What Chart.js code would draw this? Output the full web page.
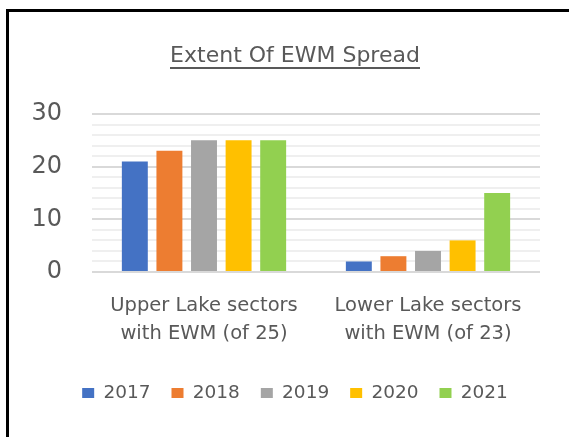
<!DOCTYPE html>
<html>
<head>
<meta charset="utf-8">
<title>Extent Of EWM Spread</title>
<script src="https://cdn.jsdelivr.net/npm/chart.js"></script>
<style>
  html, body { margin: 0; padding: 0; width: 569px; height: 437px; overflow: hidden; background: #fff; }
  #frame { position: absolute; left: 6px; top: 9px; width: 620px; height: 480px;
           border-top: 3px solid #000; border-left: 3px solid #000; }
  #c { position: absolute; left: 9px; top: 12px; }
</style>
</head>
<body>
<div id="frame"></div>
<canvas id="c" width="572" height="425"></canvas>
<script>
// data
const categories = [
  ["Upper Lake sectors", "with EWM (of 25)"],
  ["Lower Lake sectors", "with EWM (of 23)"],
];
const years = ["2017", "2018", "2019", "2020", "2021"];
const upperLake = [21, 23, 25, 25, 25];
const lowerLake = [2, 3, 4, 6, 15];
const yTicks = [0, 10, 20, 30];

const palette = ["#4472C4", "#ED7D31", "#A5A5A5", "#FFC000", "#92D050"];
const textColor = "#595959";
const family = "'DejaVu Sans', sans-serif";

// Excel style underlined title
const underlineTitle = {
  id: "underlineTitle",
  afterDraw(chart) {
    const t = chart.titleBlock;
    if (!t) return;
    const ctx = chart.ctx;
    ctx.save();
    ctx.font = "22px " + family;
    const w = ctx.measureText(t.options.text).width;
    const cx = (t.left + t.right) / 2;
    const y = t.top + t.options.padding.top + 13.2 + 11;
    ctx.fillStyle = textColor;
    ctx.fillRect(Math.round(cx - w / 2), Math.round(y), Math.round(w), 2);
    ctx.restore();
  },
};

const datasets = years.map((yr, i) => ({
  label: yr,
  data: [upperLake[i], lowerLake[i]],
  backgroundColor: palette[i],
  borderWidth: 0,
}));

new Chart(document.getElementById("c"), {
  type: "bar",
  data: { labels: categories, datasets: datasets },
  options: {
    responsive: false,
    animation: false,
    devicePixelRatio: 1,
    categoryPercentage: 0.772,
    barPercentage: 0.75,
    layout: { padding: { top: 0, left: 0, right: 0, bottom: 24.75 } },
    plugins: {
      title: {
        display: true,
        text: "Extent Of EWM Spread",
        color: textColor,
        font: { family: family, size: 22, weight: "normal" },
        padding: { top: 31, bottom: 44.6 },
      },
      legend: {
        position: "bottom",
        labels: {
          color: textColor,
          font: { family: family, size: 18.5 },
          boxWidth: 12,
          boxHeight: 10,
          padding: 21,
        },
      },
      tooltip: { enabled: false },
    },
    scales: {
      x: {
        grid: { display: false },
        border: { display: false },
        ticks: {
          color: textColor,
          font: { family: family, size: 19.5, lineHeight: "28px" },
          padding: 12,
          maxRotation: 0,
          autoSkip: false,
        },
        afterFit: (s) => { s.height = 90.75; },
      },
      y: {
        min: 0,
        max: 30,
        grid: {
          drawTicks: false,
          color: (c) => (yTicks.includes(c.tick.value) ? "#d9d9d9" : "#efefef"),
          lineWidth: 2,
        },
        border: { display: false },
        ticks: {
          stepSize: 2,
          autoSkip: false,
          color: textColor,
          font: { family: family, size: 24 },
          padding: 30,
          callback: (v) => (yTicks.includes(v) ? v : ""),
        },
        afterFit: (s) => { s.width = 83; },
      },
      yRight: {
        position: "right",
        grid: { display: false },
        border: { display: false },
        ticks: { display: false },
        afterFit: (s) => { s.width = 41; },
      },
    },
  },
  plugins: [underlineTitle],
});
</script>
</body>
</html>
